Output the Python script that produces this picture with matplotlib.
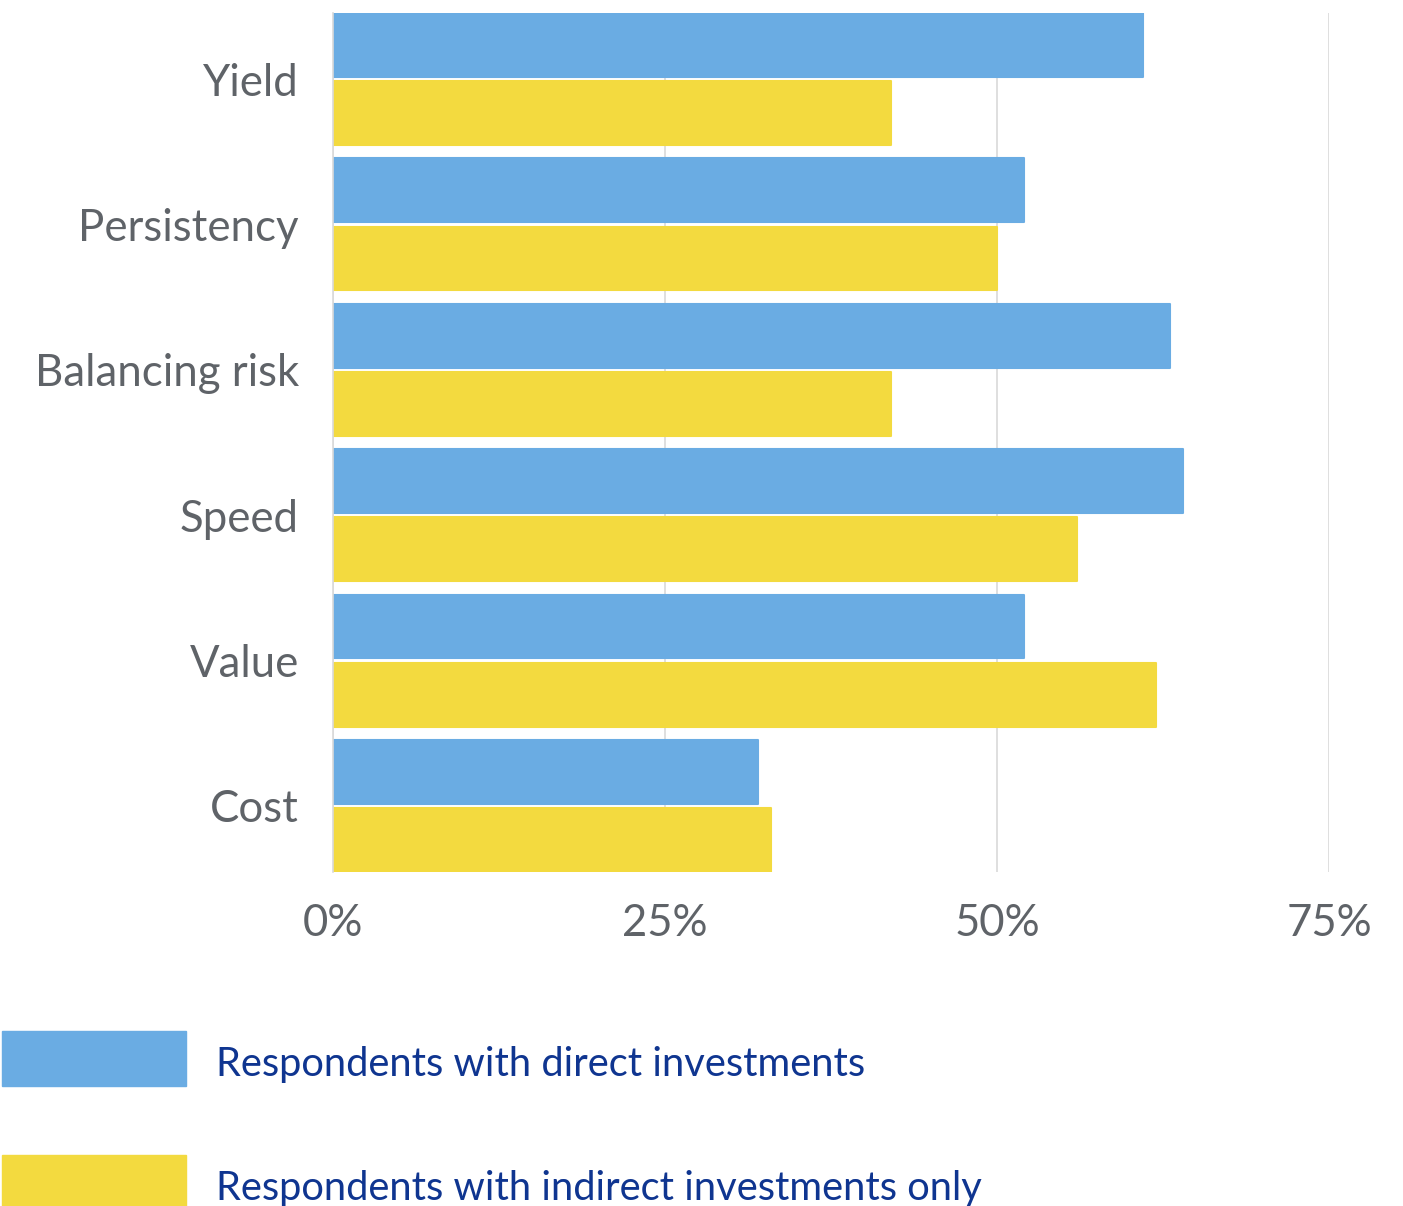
import matplotlib
matplotlib.use("Agg")
import matplotlib.pyplot as plt
from matplotlib.patches import Rectangle
import numpy as np

categories = ["Yield", "Persistency", "Balancing risk", "Speed", "Value", "Cost"]
direct = [61, 52, 63, 64, 52, 32]
indirect = [42, 50, 42, 56, 62, 33]
series_names = ["Respondents with direct investments",
                "Respondents with indirect investments only"]
x_ticks = [0, 25, 50, 75]
x_tick_labels = ["0%", "25%", "50%", "75%"]

BLUE = "#6aace3"
YELLOW = "#f3da3f"
GRAY = "#5f6368"
NAVY = "#0f3590"

W, H = 1403, 1206
fig = plt.figure(figsize=(W / 100, H / 100), dpi=100)
ax = fig.add_axes([333 / W, (H - 872) / H, (1329 - 333) / W, (872 - 13) / H])

y = np.arange(len(categories))
off = 0.234
h = 0.44
ax.barh(y - off, direct, height=h, color=BLUE, edgecolor=BLUE, linewidth=1.5,
        joinstyle="round", zorder=3)
ax.barh(y + off, indirect, height=h, color=YELLOW, edgecolor=YELLOW, linewidth=1.5,
        joinstyle="round", zorder=3)

ax.set_xlim(0, 75)
ax.set_ylim(len(categories) - 1 + 0.455, -0.455)
ax.set_yticks(y)
ax.set_yticklabels(categories)
ax.set_xticks(x_ticks)
ax.set_xticklabels(x_tick_labels)
for s in ["top", "right", "bottom"]:
    ax.spines[s].set_visible(False)
ax.spines["left"].set_color("#d9d9d9")
ax.spines["left"].set_linewidth(1.2)
ax.spines["left"].set_zorder(4)
ax.grid(axis="x", color="#d9d9d9", linewidth=1.2, zorder=0)
ax.tick_params(axis="both", length=0, colors=GRAY, labelsize=31.5)
ax.tick_params(axis="y", pad=24.5)
ax.tick_params(axis="x", pad=22.5)
for lab in ax.get_xticklabels() + ax.get_yticklabels():
    lab.set_fontfamily("Lato")

# Legend drawn manually in figure pixels
legend_rows = [(series_names[0], BLUE, 1031, 1086), (series_names[1], YELLOW, 1155, 1210)]
for name, col, top, bot in legend_rows:
    fig.add_artist(Rectangle((2 / W, (H - bot) / H), (186 - 2) / W, (bot - top) / H,
                             transform=fig.transFigure, color=col))
    fig.text(216 / W, (H - (top + bot) / 2 - 6) / H, name, color=NAVY, fontsize=28.7,
             fontfamily="Lato", va="center", ha="left")

fig.savefig("out.png", dpi=100)
